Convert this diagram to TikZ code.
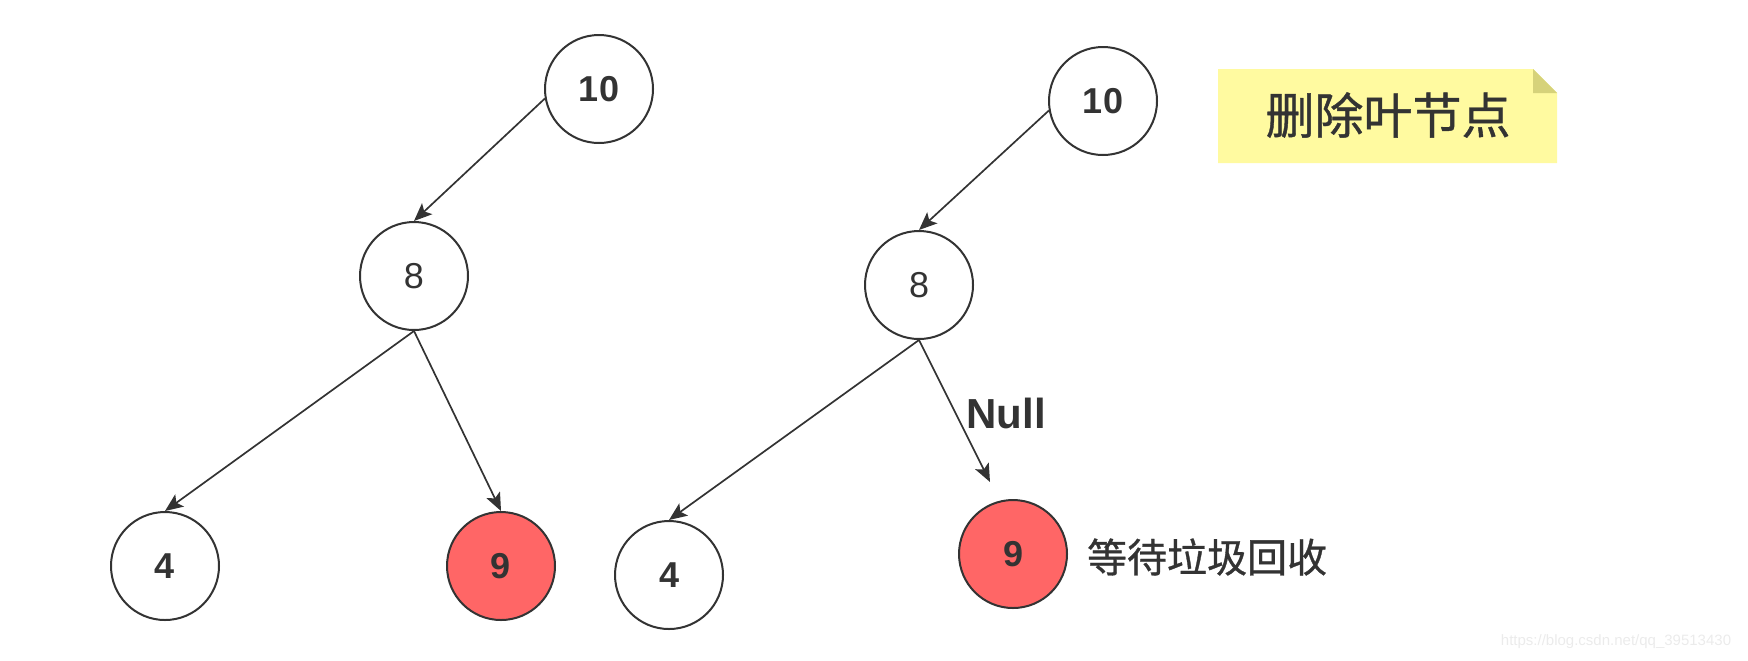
\documentclass[tikz,border=0pt]{standalone}
\usepackage{fontspec}
\setmainfont{Liberation Sans}
\newfontfamily\cjk[FakeBold=0.8]{Noto Sans CJK SC}
\usetikzlibrary{arrows.meta}
\definecolor{ink}{HTML}{333333}
\definecolor{leafred}{HTML}{FF6666}
\definecolor{notefill}{RGB}{255,250,160}
\definecolor{notefold}{RGB}{214,210,122}
\begin{document}
\begin{tikzpicture}[x=0.5pt,y=-0.5pt,
    treenode/.style={circle,draw=ink,line width=1pt,minimum size=54pt,inner sep=0pt,
      text=ink,font=\fontsize{18}{18}\selectfont\bfseries},
    plainnode/.style={treenode,font=\fontsize{18}{18}\selectfont},
    gone/.style={treenode,fill=leafred},
    link/.style={draw=ink,line width=0.85pt,-{Stealth[length=9pt,width=7.5pt,inset=2pt]}}]
  \useasboundingbox (0,0) rectangle (1748,660);
  % tree before
  \node[treenode] (l10) at (599,89) {10};
  \node[plainnode] (l8) at (414,276) {8};
  \node[treenode] (l4) at (165,566) {4};
  \node[gone] (l9) at (501,566) {9};
  \draw[link] (l10.190) -- (l8.north);
  \draw[link] (l8.south) -- (l4.north);
  \draw[link] (l8.south) -- (l9.north);
  % tree after
  \node[treenode] (r10) at (1103,101) {10};
  \node[plainnode] (r8) at (919,285) {8};
  \node[treenode] (r4) at (669,575) {4};
  \node[gone] (r9) at (1013,554) {9};
  \coordinate (rnull) at (990,482);
  \draw[link] (r10.190) -- (r8.north);
  \draw[link] (r8.south) -- (r4.north);
  \draw[link] (r8.south) -- (rnull);
  \node[text=ink,font=\fontsize{21}{21}\selectfont\bfseries] (null) at (1006,413) {Null};
  \node[text=ink,anchor=west,font=\cjk\fontsize{20}{20}\selectfont] (gc) at (1080,557) {等待垃圾回收};
  % note
  \fill[notefill] (1218,69) -- (1533,69) -- (1557,93) -- (1557,163) -- (1218,163) -- cycle;
  \fill[notefold] (1533,69) -- (1557,93) -- (1533,93) -- cycle;
  \node[text=ink,font=\cjk\fontsize{24.5}{24.5}\selectfont] (title) at (1388,115) {删除叶节点};
  \node[text=black!8,font=\fontsize{7.5}{7.5}\selectfont] (mark) at (1616,642) {https://blog.csdn.net/qq\_39513430};
\end{tikzpicture}
\end{document}
